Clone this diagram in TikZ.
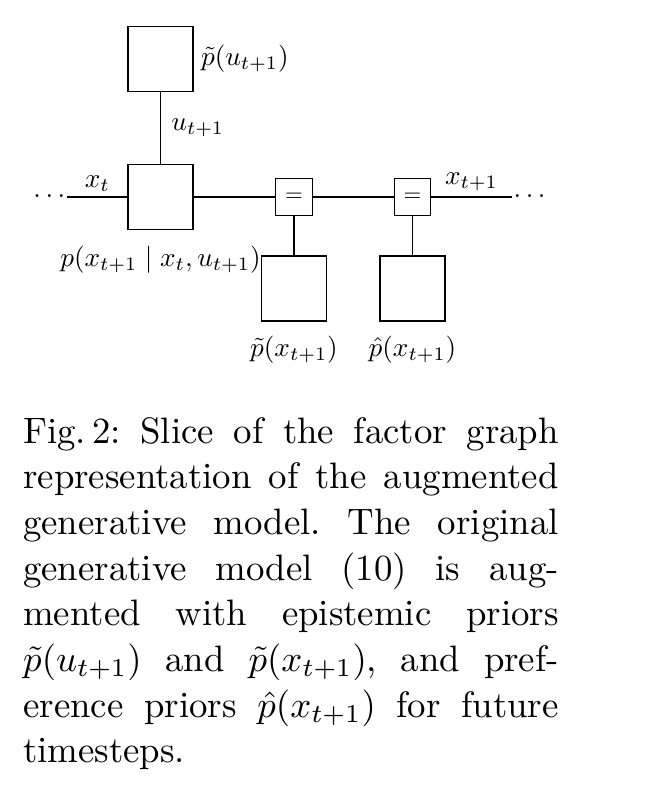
\documentclass[tikz,border=0pt]{standalone}
\usepackage{graphicx}
\usetikzlibrary{positioning}
\newcommand{\flab}[1]{\scalebox{0.74}{$#1$}}
\newcommand{\fdots}{\scalebox{0.74}{.\kern1.67pt.\kern1.67pt.}}
\tikzset{
  fac/.style={
    rectangle, draw=black, line width=0.35pt,
    minimum size=17.7pt, inner sep=0pt
  },
  eqn/.style={
    rectangle, draw=black, line width=0.35pt,
    minimum size=9.9pt, inner sep=0pt
  },
  edge/.style   = {line width=0.35pt},
  lbl/.style    = {inner sep=0pt},
  captxt/.style = {text width=145.5pt, inner sep=0pt, align=justify,
                   font=\fontsize{10}{12.4}\selectfont\frenchspacing},
}

\begin{document}
\begin{tikzpicture}[x=0.2717pt, y=-0.2717pt]
\useasboundingbox (0,0) rectangle (668,808);

%% ── Factor nodes ─────────────────────────────────────────────────────────────
\node[fac] (PU)  at (160.5,  59.0) {};
\node[fac] (FT)  at (160.5, 197.0) {};
\node[eqn] (EQ1) at (294.0, 197.0) {\scalebox{0.62}{$=$}};
\node[eqn] (EQ2) at (412.5, 197.0) {\scalebox{0.62}{$=$}};
\node[fac] (PX)  at (294.0, 288.5) {};
\node[fac] (PH)  at (412.5, 288.5) {};

%% ── Dots at both ends of the chain ──────────────────────────────────────────
\node[lbl, anchor=base east] (DL) at (66.0, 197.8) {\fdots};
\node[lbl, anchor=base west] (DR) at (513.0, 197.8) {\fdots};

%% ── Factor labels ────────────────────────────────────────────────────────────
\node[lbl, right=1.8pt of PU] (LPU) {\flab{\tilde{p}(u_{t+1})}};
\node[lbl, below=4.2pt of FT] (LFT) {\flab{p(x_{t+1}\mid x_t, u_{t+1})}};
\node[lbl, below=3.8pt of PX] (LPX) {\flab{\tilde{p}(x_{t+1})}};
\node[lbl, below=3.8pt of PH] (LPH) {\flab{\hat{p}(x_{t+1})}};

%% ── Edges along the chain ────────────────────────────────────────────────────
\draw[edge] ([xshift=0.4pt]FT.west -| DL.east) -- node[lbl, above=1.4pt]{\flab{x_t}} (FT.west);
\draw[edge] (FT.east) -- (EQ1.west);
\draw[edge] (EQ1.east) -- (EQ2.west);
\draw[edge] (EQ2.east) -- node[lbl, above=1.4pt]{\flab{x_{t+1}}} ([xshift=-0.4pt]EQ2.east -| DR.west);

%% ── Vertical edges ───────────────────────────────────────────────────────────
\draw[edge] (PU.south) -- node[lbl, right=2.8pt]{\flab{u_{t+1}}} (FT.north);
\draw[edge] (EQ1.south) -- (PX.north);
\draw[edge] (EQ2.south) -- (PH.north);

%% ── Caption ──────────────────────────────────────────────────────────────────
\node[captxt, anchor=north west] (CAP) at (22.5, 416.5) {Fig.\,2: Slice of the factor graph\linebreak
representation of the augmented\linebreak
generative model. The original\linebreak
generative model (10) is aug-\linebreak
mented with epistemic priors\linebreak
$\tilde{p}(u_{t+1})$ and $\tilde{p}(x_{t+1})$, and pref-\linebreak
erence priors $\hat{p}(x_{t+1})$ for future\linebreak
timesteps.};

\end{tikzpicture}
\end{document}
